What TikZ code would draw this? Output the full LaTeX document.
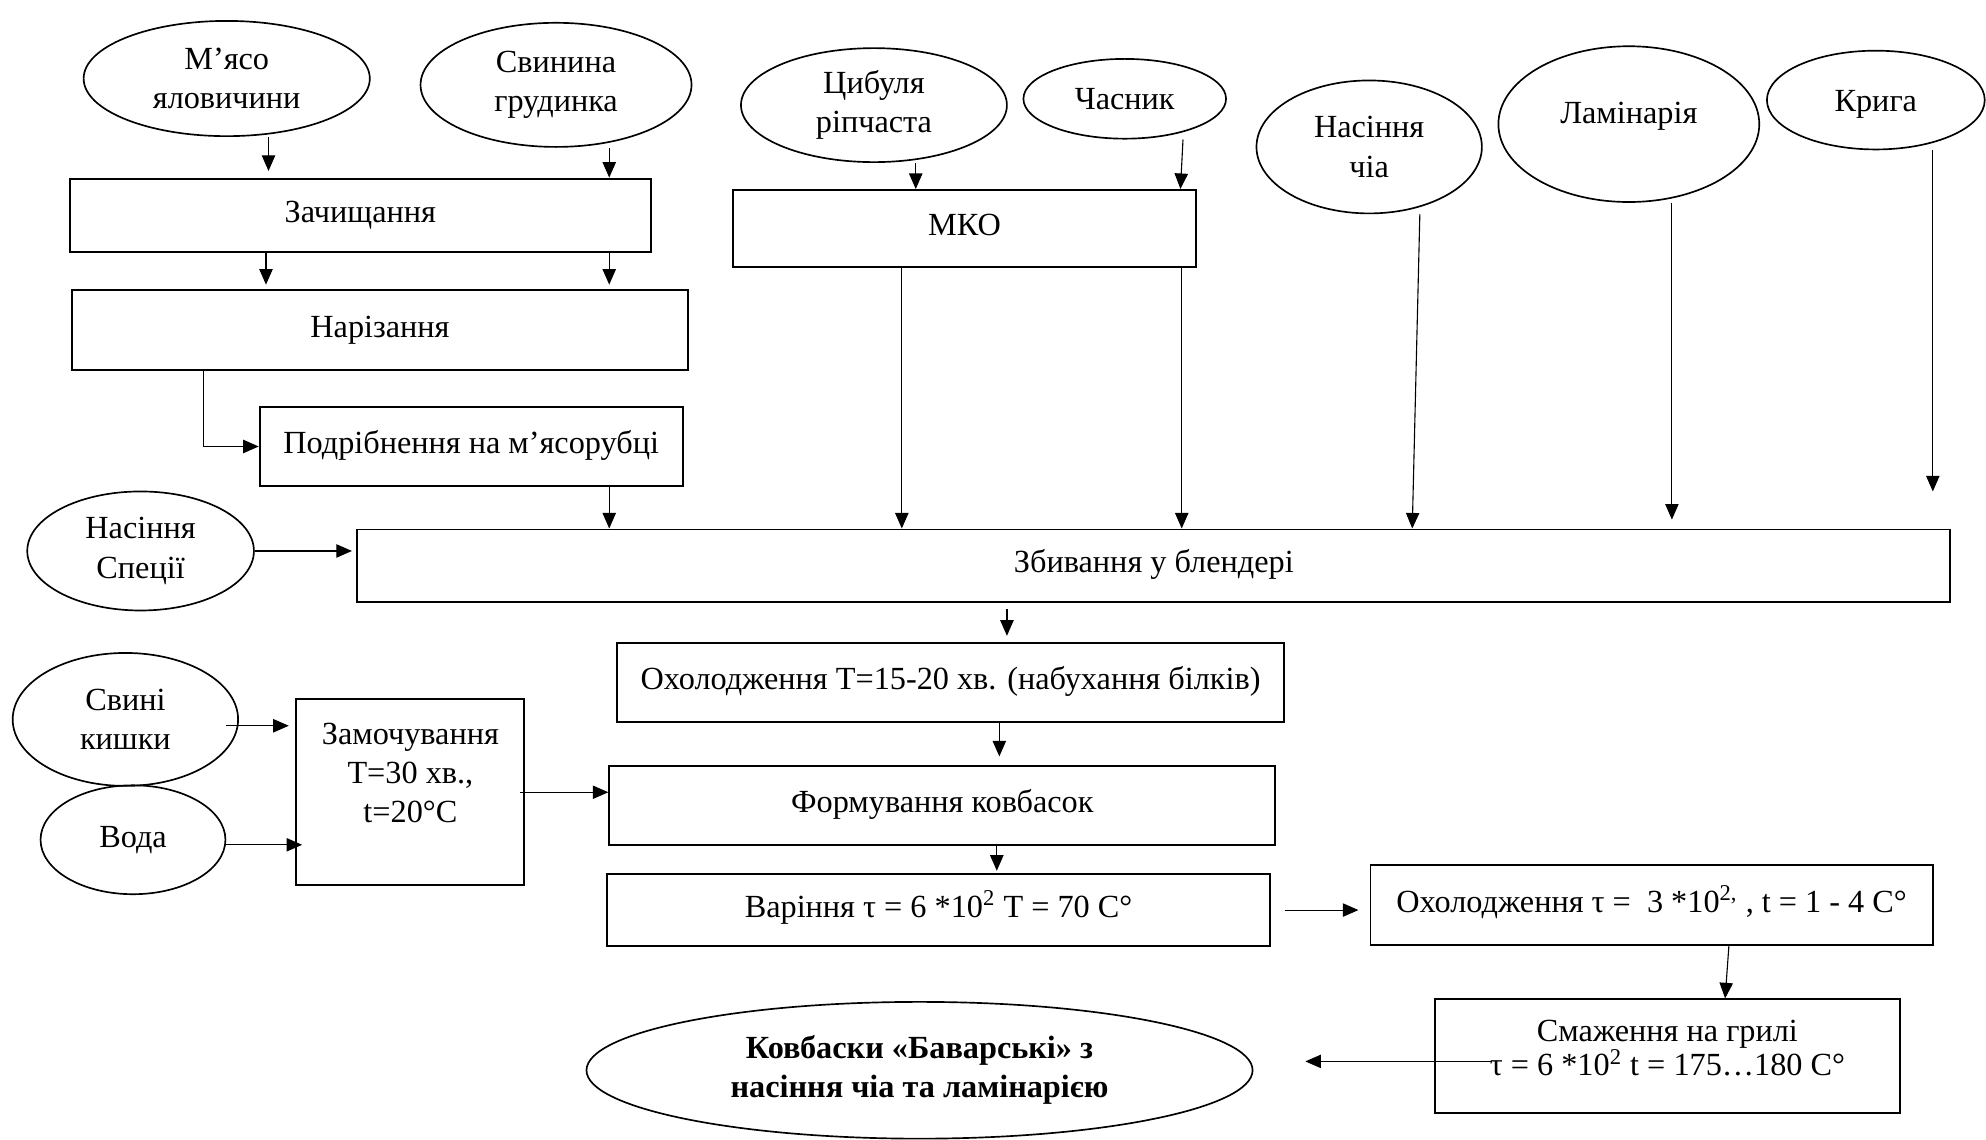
\documentclass[tikz,border=0pt]{standalone}
\usepackage{fontspec}
\setmainfont{Liberation Serif}
\usetikzlibrary{shapes.geometric,arrows.meta}
\tikzset{
  procbox/.style={draw, line width=0.85pt, inner sep=2pt,
    align=center, text height=10pt, text depth=3.5pt},
  procmbox/.style={draw, line width=0.85pt, inner sep=2pt, align=center},
  ingr/.style={draw, ellipse, line width=0.75pt, inner sep=0pt,
    align=center},
  flarr/.style={-{Triangle[length=7pt,width=6pt]}, line width=0.5pt},
}

\begin{document}
\begin{tikzpicture}[x=0.02cm, y=-0.02cm, font=\fontsize{14.5}{17.6}\selectfont]
  \useasboundingbox (0,0) rectangle (1568,900);
  % Raw materials, top row
  \node[ingr, minimum width=4.52cm, minimum height=1.82cm] at (179,62) (Myaso) {М’ясо\\яловичини};
  \node[ingr, minimum width=4.28cm, minimum height=1.96cm] at (439,67) (Svyn) {Свинина\\грудинка};
  \node[ingr, minimum width=4.2cm, minimum height=1.8cm] at (690,83) (Cyb) {Цибуля\\ріпчаста};
  \node[ingr, minimum width=3.2cm, minimum height=1.26cm] at (888,78) (Chas) {Часник};
  \node[ingr, minimum width=3.56cm, minimum height=2.1cm] at (1081,116) (Chia) {Насіння\\чіа};
  \node[ingr, minimum width=4.12cm, minimum height=2.46cm, text height=9pt, text depth=10pt] at (1286,98) (Lamin) {Ламінарія};
  \node[ingr, minimum width=3.44cm, minimum height=1.56cm, text height=14pt, text depth=3.5pt] at (1481,79) (Kryga) {Крига};
  % Meat line
  \node[procbox, minimum width=9.18cm, minimum height=1.16cm] at (284.5,170) (Zach) {Зачищання};
  \node[procbox, minimum width=9.72cm, minimum height=1.26cm] at (300,260.5) (Nariz) {Нарізання};
  \node[procbox, minimum width=6.68cm, minimum height=1.26cm] at (372,352.5) (Podr) {Подрібнення на м’ясорубці};
  \node[procbox, minimum width=7.3cm, minimum height=1.22cm] at (761.5,180.5) (MKO) {МКО};
  % Blender
  \node[ingr, minimum width=3.58cm, minimum height=1.88cm] at (111,435) (Spec) {Насіння\\Спеції};
  \node[procbox, minimum width=25.16cm, minimum height=1.14cm] at (911,446.5) (Zbyv) {Збивання у блендері};
  \node[procbox, minimum width=10.54cm, minimum height=1.24cm] at (750.5,539) (Okh) {Охолодження Т=15-20 хв. (набухання білків)};
  % Casings
  \node[ingr, minimum width=3.56cm, minimum height=2.1cm] at (99,568) (Kysh) {Свині\\кишки};
  \node[ingr, minimum width=2.92cm, minimum height=1.72cm] at (105,663) (Voda) {Вода};
  \node[procmbox, minimum width=3.6cm, minimum height=2.94cm] at (324,625.5) (Zam) {Замочування\\Т=30 хв.,\\t=20°C\\\mbox{}};
  % Sausages
  \node[procbox, minimum width=10.52cm, minimum height=1.24cm] at (744,636) (Form) {Формування ковбасок};
  \node[procbox, minimum width=10.48cm, minimum height=1.14cm] at (741,718.5) (Var) {Варіння τ = 6 *10\textsuperscript{2} T = 70 C°};
  \node[procbox, minimum width=8.88cm, minimum height=1.26cm] at (1304,714.5) (OkhT) {Охолодження τ = \ 3 *10\textsuperscript{2,} , t = 1 - 4 C°};
  \node[procmbox, minimum width=7.34cm, minimum height=1.8cm] at (1316.5,834) (Smaz) {Смаження на грилі\\[-2pt]τ = 6 *10\textsuperscript{2} t = 175…180 C°\\[-10pt]\mbox{}};
  \node[ingr, minimum width=10.52cm, minimum height=2.16cm, font=\fontsize{14.5}{17.6}\selectfont\bfseries] at (726,845) (Kovb) {Ковбаски «Баварські» з\\насіння чіа та ламінарією};
  % Free ends
  \coordinate (krend) at (1526,388);
  \coordinate (grill) at (1177,838);
  % Edges
  \draw[flarr, shorten >=3pt] (Myaso.south -| 212,0) -- (Zach.north -| 212,0);
  \draw[flarr] (Svyn.south -| 481,0) -- (Zach.north -| 481,0);
  \draw[flarr, shorten >=2pt] (Zach.south -| 210,0) -- (Nariz.north -| 210,0);
  \draw[flarr, shorten >=2pt] (Zach.south -| 481,0) -- (Nariz.north -| 481,0);
  \draw[flarr] (Nariz.south -| 161,0) |- (Podr.west);
  \draw[flarr] (Podr.south -| 481,0) -- (Zbyv.north -| 481,0);
  \draw[flarr] (Cyb.south -| 723,0) -- (MKO.north -| 723,0);
  \draw[flarr] (Chas.south -| 934,0) -- (MKO.north -| 932,0);
  \draw[flarr] (MKO.south -| 712,0) -- (Zbyv.north -| 712,0);
  \draw[flarr] (MKO.south -| 933,0) -- (Zbyv.north -| 933,0);
  \draw[flarr] (Chia.south -| 1121,0) -- (Zbyv.north -| 1115,0);
  \draw[flarr, shorten >=4pt] (Lamin.south -| 1320,0) -- (Zbyv.north -| 1320,0);
  \draw[flarr] (Kryga.south -| krend) -- (krend);
  \draw[flarr, shorten >=2pt] (Spec.east) -- (Spec.east -| Zbyv.west);
  \draw[flarr, shorten <=3pt, shorten >=3pt] (Zbyv.south -| 795,0) -- (Okh.north -| 795,0);
  \draw[flarr, shorten >=4pt] (Okh.south -| 789,0) -- (Form.north -| 789,0);
  \draw[flarr, shorten >=3pt] ([xshift=-0.2cm, yshift=-0.1cm]Kysh.east) -- ([yshift=-0.1cm]Kysh.east -| Zam.west);
  \draw[flarr, shorten >=-3pt] ([yshift=-0.08cm]Voda.east) -- ([yshift=-0.08cm]Voda.east -| Zam.west);
  \draw[flarr] ([xshift=-0.08cm]Zam.east) -- (Zam.east -| Form.west);
  \draw[flarr, shorten >=1pt] (Form.south -| 787,0) -- (Var.north -| 787,0);
  \draw[flarr, shorten <=6pt, shorten >=5pt] (Var.east) -- (Var.east -| OkhT.west);
  \draw[flarr] (OkhT.south -| 1365,0) -- (Smaz.north -| 1362,0);
  \draw[flarr, shorten >=0.82cm] (grill) -- (grill -| Kovb.east);
\end{tikzpicture}
\end{document}
